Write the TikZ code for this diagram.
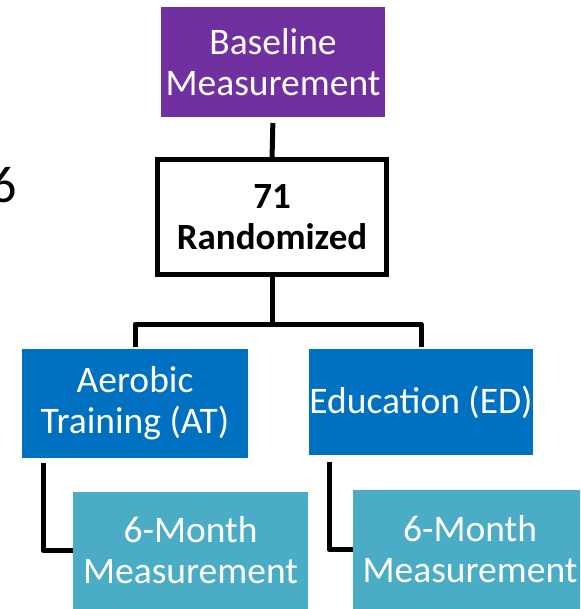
\documentclass[tikz,border=0pt]{standalone}
\usepackage{fontspec}
\setmainfont{Carlito}
\usetikzlibrary{calc}
\definecolor{basepurple}{HTML}{7030A0}
\definecolor{armblue}{HTML}{0070C0}
\definecolor{followteal}{HTML}{4BACC6}
\tikzset{
  box/.style={rectangle, inner sep=0pt, outer sep=0pt, align=center, text=white,
    font=\fontsize{37.5}{41}\selectfont},
  conn/.style={draw=black, line width=5pt, line join=round},
}
\begin{document}
\begin{tikzpicture}[x=1pt,y=-1pt]
  \useasboundingbox (0,0) rectangle (580,609);
  \clip (0,0) rectangle (580,609);

  % partially visible digit at the left edge
  \node[anchor=base east, inner sep=0pt, font=\fontsize{52}{52}\selectfont] (six) at (17,203) {6};

  % boxes
  \node[box, fill=basepurple, minimum width=224pt, minimum height=110pt] (base) at (273,62) {Baseline\\Measurement};
  \node[box, fill=white, text=black, draw=black, line width=5pt, minimum width=229pt, minimum height=115pt,
        font=\fontsize{37}{41}\selectfont\bfseries] (rand) at (272,217) {71\\Randomized};
  \node[box, fill=armblue, minimum width=226pt, minimum height=109pt] (at) at (135,403.5) {Aerobic\\Training (AT)};
  \node[box, fill=armblue, minimum width=224pt, minimum height=106pt] (ed) at (421,402) {Education (ED)};
  \node[box, fill=followteal, minimum width=235pt, minimum height=117pt] (atm) at (190.5,550.5) {6-Month\\Measurement};
  \node[box, fill=followteal, minimum width=234pt, minimum height=119pt] (edm) at (470,549.5) {6-Month\\Measurement};

  % connectors
  \draw[conn, shorten <=6pt] (base.south) -- (rand.north);
  \coordinate (split) at (272,324);
  \draw[conn] (rand.south) -- (split);
  \draw[conn] ([yshift=2pt]at.north) |- (split) -| ([yshift=2pt]ed.north);
  \draw[conn] ($(at.south west)+(21,5)$) |- (atm.west);
  \draw[conn] ($(ed.south west)+(20,7)$) |- (edm.west);
\end{tikzpicture}
\end{document}
